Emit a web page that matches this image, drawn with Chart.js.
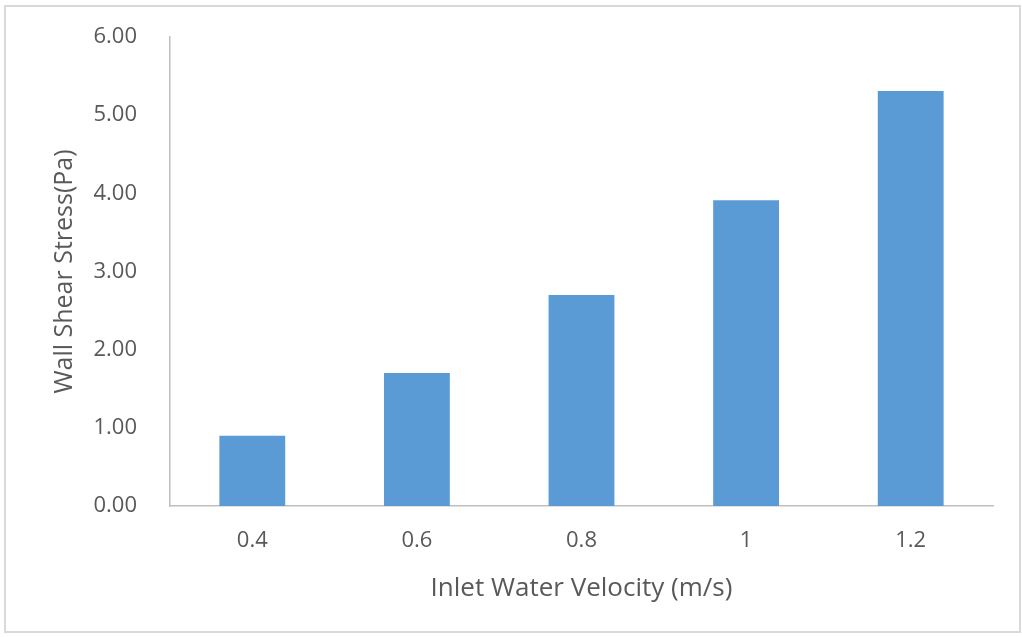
<!DOCTYPE html>
<html>
<head>
<meta charset="utf-8">
<script src="https://cdn.jsdelivr.net/npm/chart.js@4/dist/chart.umd.min.js"></script>
<style>
  html, body { margin: 0; padding: 0; background: #ffffff; }
  #wrap { position: relative; width: 1022px; height: 637px; }
  #frame { position: absolute; left: 4px; top: 5px; width: 1017px; height: 628px;
           border: 2px solid #d9d9d9; box-sizing: border-box; pointer-events: none; }
  canvas { position: absolute; left: 0; top: 0; }
</style>
</head>
<body>
<div id="wrap">
  <canvas id="chart" width="1022" height="637"></canvas>
  <div id="frame"></div>
</div>
<script>
// Inlet water velocity (m/s) and resulting wall shear stress (Pa)
const velocities = ['0.4', '0.6', '0.8', '1', '1.2'];
const shearStress = [0.90, 1.70, 2.70, 3.91, 5.31];
const yTicks = [0, 1, 2, 3, 4, 5, 6];

const FONT = "'Open Sans', 'Noto Sans', sans-serif";
const TEXT = '#595959';
const AXIS = '#bfbfbf';

new Chart(document.getElementById('chart'), {
  type: 'bar',
  data: {
    labels: velocities,
    datasets: [{
      data: shearStress,
      backgroundColor: '#5b9bd5',
      borderWidth: 0,
      barPercentage: 0.4,
      categoryPercentage: 1.0
    }]
  },
  options: {
    responsive: false,
    animation: false,
    devicePixelRatio: 1,
    layout: { padding: { top: 37, right: 29, bottom: 0, left: 0 } },
    plugins: { legend: { display: false }, tooltip: { enabled: false } },
    scales: {
      x: {
        grid: { display: false, drawTicks: false },
        border: { display: true, color: AXIS, width: 1.5 },
        ticks: { color: TEXT, font: { family: FONT, size: 22 }, padding: 22 },
        title: {
          display: true, text: 'Inlet Water Velocity (m/s)', color: TEXT,
          font: { family: FONT, size: 26 }, padding: { top: 0, bottom: 33 }
        },
        afterFit: (s) => { s.height = 131; s.paddingLeft = 0; s.paddingRight = 0; }
      },
      y: {
        min: 0, max: 6,
        afterBuildTicks: (s) => { s.ticks = yTicks.map(v => ({ value: v })); },
        grid: { display: false, drawTicks: false },
        border: { display: true, color: AXIS, width: 1.5 },
        ticks: {
          color: TEXT, font: { family: FONT, size: 22 }, padding: 33,
          callback: (v) => Number(v).toFixed(2)
        },
        title: {
          display: true, text: 'Wall Shear Stress(Pa)', color: TEXT,
          font: { family: FONT, size: 25 }, padding: { top: 50, bottom: 0 }
        },
        // keep the tick-label gap from pushing the plot area down
        afterFit: (s) => { s.width = 170; s.paddingTop = 0; s.paddingBottom = 0; }
      }
    }
  }
});
</script>
</body>
</html>
